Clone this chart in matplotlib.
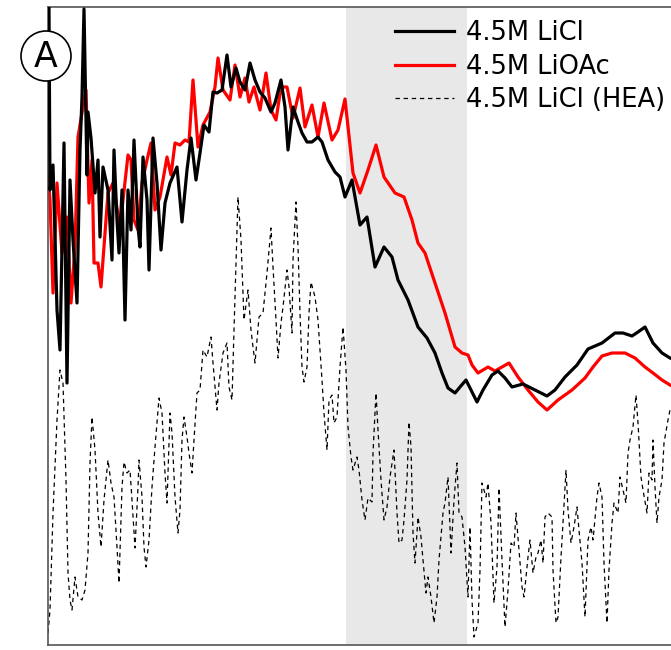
import numpy as np
import matplotlib.pyplot as plt
from matplotlib.patches import Ellipse

# ---- data (x in channel units, y as intensity) ----
licl_x = [49, 50, 53, 57, 60, 64, 67, 70, 73, 77, 80, 82, 84, 87, 88, 91, 95, 98, 100, 103,
          108, 112, 114, 117, 119, 122, 125, 128, 131, 134, 138, 140, 143, 147, 149, 153, 157,
          161, 165, 170, 177, 182, 187, 191, 196, 200, 204, 209, 213, 217, 222, 227, 231, 236,
          240, 245, 250, 255, 260, 265, 271, 275, 281, 285, 288, 293, 298, 302, 307, 312, 318,
          322, 328, 335, 340, 345, 352, 360, 367, 375, 384, 392, 398, 408, 418, 427, 435, 442,
          448, 455, 460, 466, 471, 477, 483, 492, 498, 505, 512, 523, 535, 547, 555, 565, 577,
          588, 602, 615, 623, 632, 638, 645, 653, 662, 670, 680]
licl_y = [642, 460, 485, 340, 300, 507, 267, 470, 410, 347, 500, 553, 641, 475, 538, 512, 457,
          490, 413, 483, 460, 390, 500, 430, 397, 460, 330, 460, 420, 510, 423, 403, 493, 450,
          380, 512, 467, 400, 447, 467, 483, 428, 480, 512, 470, 497, 525, 518, 558, 557, 560,
          595, 563, 582, 568, 560, 587, 570, 558, 552, 538, 547, 570, 543, 500, 543, 528, 517,
          508, 508, 513, 508, 490, 478, 473, 453, 470, 425, 433, 383, 403, 393, 370, 350, 323,
          312, 297, 277, 262, 257, 263, 270, 260, 248, 260, 275, 279, 272, 263, 266, 260, 254,
          260, 273, 285, 301, 307, 317, 317, 314, 318, 323, 307, 297, 292, 288]

lioac_x = [48, 50, 53, 57, 62, 67, 71, 75, 78, 82, 86, 89, 92, 94, 98, 101, 103, 108, 113, 120,
           128, 131, 134, 138, 142, 147, 151, 155, 160, 167, 171, 175, 180, 185, 189, 193, 198,
           203, 210, 215, 218, 223, 230, 235, 240, 245, 249, 254, 260, 266, 271, 276, 281, 287,
           293, 300, 305, 312, 318, 324, 332, 338, 345, 353, 360, 368, 376, 384, 395, 404, 412,
           418, 425, 435, 445, 455, 462, 468, 472, 478, 488, 495, 502, 509, 518, 528, 538, 547,
           558, 572, 585, 593, 602, 612, 625, 635, 645, 653, 662, 670, 680]
lioac_y = [475, 450, 357, 467, 397, 433, 347, 403, 513, 537, 560, 447, 490, 387, 387, 363, 390,
           457, 467, 423, 495, 490, 430, 420, 467, 490, 507, 440, 453, 493, 475, 507, 505, 510,
           508, 570, 503, 525, 538, 563, 592, 560, 550, 585, 553, 572, 548, 563, 540, 577, 540,
           530, 563, 563, 532, 562, 523, 545, 513, 547, 510, 520, 551, 477, 457, 480, 505, 473,
           457, 453, 430, 407, 397, 367, 337, 303, 297, 295, 285, 277, 283, 279, 283, 287, 273,
           260, 248, 240, 250, 260, 272, 283, 294, 297, 297, 292, 283, 277, 270, 265, 260]

hea_x = [48, 50, 53, 57, 60, 63, 66, 68, 70, 72, 75, 78, 82, 85, 88, 90, 92, 95, 98, 101, 104,
         108, 111, 114, 117, 119, 122, 124, 127, 130, 132, 135, 138, 139, 142, 144, 146, 149,
         152, 155, 159, 162, 165, 167, 170, 172, 175, 178, 180, 182, 184, 187, 189, 192, 194,
         197, 200, 203, 207, 211, 213, 217, 219, 223, 227, 229, 232, 234, 238, 241, 244, 248,
         251, 253, 255, 259, 263, 267, 271, 273, 276, 278, 281, 283, 287, 289, 292, 293, 296,
         298, 300, 302, 304, 307, 309, 311, 315, 318, 322, 324, 327, 329, 332, 334, 337, 340,
         343, 346, 348, 351, 353, 357, 359, 362, 365, 368, 372, 373, 376, 378, 381, 384, 387,
         390, 394, 397, 399, 402, 404, 407, 409, 411, 413, 415, 418, 421, 423, 426, 428, 431,
         434, 437, 439, 443, 445, 448, 451, 454, 457, 459, 462, 465, 468, 470, 472, 474, 478,
         480, 482, 486, 488, 491, 494, 497, 499, 502, 505, 508, 511, 514, 516, 519, 522, 524,
         528, 530, 533, 536, 538, 541, 543, 545, 548, 552, 553, 556, 558, 561, 563, 566, 568,
         571, 574, 577, 579, 582, 585, 588, 591, 593, 597, 599, 602, 604, 607, 609, 612, 614,
         618, 620, 623, 626, 628, 630, 633, 636, 638, 641, 643, 647, 649, 652, 653, 655, 657,
         659, 662, 664, 668, 670, 675]
hea_y = [17, 40, 137, 230, 280, 267, 170, 77, 50, 40, 73, 53, 50, 60, 97, 187, 233, 200, 137,
         103, 150, 190, 167, 153, 103, 67, 163, 188, 177, 180, 150, 102, 163, 190, 153, 103, 83,
         110, 163, 203, 252, 237, 177, 147, 237, 217, 153, 117, 140, 210, 233, 213, 197, 177,
         210, 257, 260, 300, 293, 313, 287, 240, 267, 297, 307, 263, 250, 320, 453, 410, 330,
         360, 320, 303, 287, 333, 337, 377, 422, 383, 330, 292, 327, 343, 380, 363, 317, 390,
         448, 403, 337, 283, 268, 283, 337, 368, 353, 330, 270, 237, 200, 250, 255, 227, 233,
         283, 323, 280, 223, 193, 180, 193, 180, 150, 130, 152, 148, 197, 257, 220, 170, 130,
         143, 173, 200, 137, 107, 110, 130, 170, 228, 203, 117, 87, 133, 113, 90, 57, 73, 53,
         27, 53, 90, 137, 147, 173, 97, 150, 187, 137, 133, 103, 53, 123, 50, 13, 27, 80, 167,
         153, 167, 127, 47, 83, 162, 90, 23, 60, 107, 103, 137, 100, 63, 53, 93, 110, 77, 93,
         97, 110, 87, 133, 137, 133, 80, 27, 33, 93, 127, 180, 140, 107, 123, 143, 120, 87, 33,
         110, 123, 110, 153, 167, 153, 87, 27, 80, 127, 147, 137, 173, 160, 147, 197, 210, 223,
         255, 227, 173, 160, 137, 177, 170, 210, 163, 127, 153, 170, 207, 230, 240, 250]

labels = ['4.5M LiCl', '4.5M LiOAc', '4.5M LiCl (HEA)']
shade = (346, 467)

W, H = 671, 650
fig = plt.figure(figsize=(W / 100, H / 100), dpi=100)
# axes box runs past the right edge of the figure, like the cropped original
ax = fig.add_axes([48 / W, 5 / H, (700 - 48) / W, (645 - 7) / H])

ax.axvspan(shade[0], shade[1], color='#e8e8e8', lw=0, zorder=0)
l1, = ax.plot(licl_x, licl_y, color='black', lw=2.3, zorder=3, label=labels[0])
l2, = ax.plot(lioac_x, lioac_y, color='#ff0000', lw=2.3, zorder=2, label=labels[1])
l3, = ax.plot(hea_x, hea_y, color='black', lw=0.9, ls=(0, (3.5, 3)), zorder=1, label=labels[2])

ax.set_xlim(48, 700)
ax.set_ylim(5, 643)
ax.set_xticks([])
ax.set_yticks([])
for s in ax.spines.values():
    s.set_color('#555555')
    s.set_linewidth(1.2)

ax.legend(handles=[l1, l2, l3], loc='upper left', bbox_to_anchor=(395 / W, 1 - 20 / H),
          bbox_transform=fig.transFigure, frameon=False, fontsize=18.5,
          handlelength=2.3, handletextpad=0.45, labelspacing=0.3,
          borderpad=0, borderaxespad=0)

# panel tag
fig.add_artist(Ellipse((46 / W, 1 - 56 / H), 50 / W, 50 / H, transform=fig.transFigure,
                       facecolor='white', edgecolor='black', lw=1.2, zorder=5))
fig.text(46 / W, 1 - 57 / H, 'A', ha='center', va='center', fontsize=25, zorder=6)

fig.savefig('out.png', dpi=100)
